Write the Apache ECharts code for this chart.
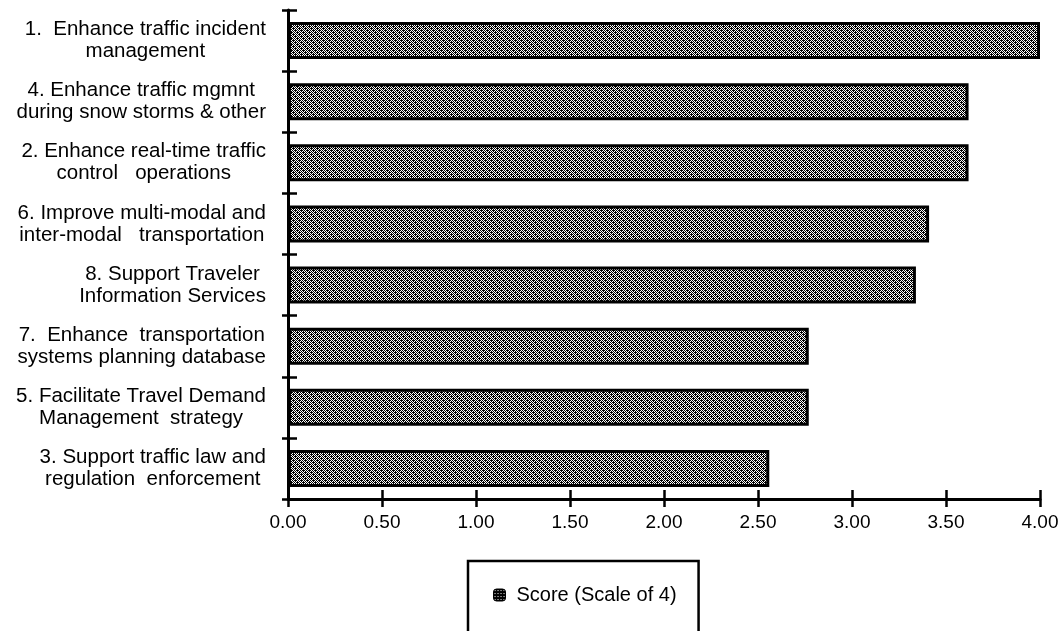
<!DOCTYPE html>
<html>
<head>
<meta charset="utf-8">
<title>Score (Scale of 4)</title>
<script src="https://cdn.jsdelivr.net/npm/echarts@6/dist/echarts.min.js"></script>
<style>
  html, body { margin: 0; padding: 0; background: #fff; }
  #chart { width: 1061px; height: 631px; }
</style>
</head>
<body>
<div id="chart"></div>
<script>
// Objectives, listed top to bottom
const categories = [
  '1.  Enhance traffic incident\nmanagement',
  '4. Enhance traffic mgmnt\nduring snow storms & other',
  '2. Enhance real-time traffic\ncontrol   operations',
  '6. Improve multi-modal and\ninter-modal   transportation',
  '8. Support Traveler\nInformation Services',
  '7.  Enhance  transportation\nsystems planning database',
  '5. Facilitate Travel Demand\nManagement  strategy',
  '3. Support traffic law and\nregulation  enforcement'
];
const scores = [4.00, 3.62, 3.62, 3.41, 3.34, 2.77, 2.77, 2.56];
const seriesName = 'Score (Scale of 4)';
const tickLabels = ['0.00', '0.50', '1.00', '1.50', '2.00', '2.50', '3.00', '3.50', '4.00'];

const SANS = '"Liberation Sans", Arial, Helvetica, sans-serif';

// Dithered grey fill used for the bars
function ditherTile(dark) {
  const n = 6;
  const c = document.createElement('canvas');
  c.width = n; c.height = n;
  const ctx = c.getContext('2d');
  ctx.fillStyle = '#fff';
  ctx.fillRect(0, 0, n, n);
  ctx.fillStyle = '#000';
  for (let y = 0; y < n; y++) {
    for (let x = 0; x < n; x++) {
      let on = (x + y) % 2 === 0 || (x + 2 * y) % 6 === 1;
      if (dark) on = !((x % 3 === 1) && (y % 3 === 1));
      if (on) ctx.fillRect(x, y, 1, 1);
    }
  }
  return c;
}
const barFill = { image: ditherTile(false), repeat: 'repeat' };
const iconFill = { image: ditherTile(true), repeat: 'repeat' };

const chart = echarts.init(document.getElementById('chart'), null, { renderer: 'canvas' });

const valueAxisBase = {
  type: 'value',
  min: 0,
  max: 4,
  interval: 0.5,
  splitLine: { show: false }
};

chart.setOption({
  animation: false,
  backgroundColor: '#fff',
  grid: { left: 288, right: 21, top: 10, bottom: 132, containLabel: false, outerBoundsMode: 'none' },
  legend: {
    data: [{ name: seriesName, itemStyle: { color: iconFill, borderColor: '#000', borderWidth: 1 } }],
    left: 468,
    top: 561,
    itemWidth: 12,
    itemHeight: 12,
    padding: [24, 22, 60, 25],
    borderColor: '#000',
    borderWidth: 2.5,
    borderRadius: 0,
    textStyle: { fontFamily: SANS, fontSize: 20, color: '#000', padding: [0, 0, 0, 6] }
  },
  xAxis: [
    Object.assign({}, valueAxisBase, {
      position: 'bottom',
      axisLine: { show: true, onZero: false, lineStyle: { color: '#000', width: 3 } },
      axisTick: { show: true, inside: false, length: 8, lineStyle: { color: '#000', width: 2.5 } },
      axisLabel: {
        margin: 14,
        color: '#000',
        fontFamily: SANS,
        fontSize: 19,
        formatter: (v) => tickLabels[Math.round(v / 0.5)]
      }
    }),
    Object.assign({}, valueAxisBase, {
      position: 'bottom',
      axisLine: { show: false, onZero: false },
      axisTick: { show: true, inside: true, length: 9, lineStyle: { color: '#000', width: 2.5 } },
      axisLabel: { show: false }
    })
  ],
  yAxis: [
    {
      type: 'category',
      inverse: true,
      data: categories,
      position: 'left',
      axisLine: { show: true, onZero: false, lineStyle: { color: '#000', width: 3 } },
      axisTick: { show: true, inside: false, length: 6, lineStyle: { color: '#000', width: 2.5 } },
      axisLabel: {
        align: 'right',
        margin: 22,
        formatter: (v) => v.split('\n').map((l) => '{c|' + l + '}').join('\n'),
        rich: {
          c: {
            align: 'center',
            fontFamily: SANS,
            fontSize: 20.5,
            lineHeight: 22,
            color: '#000'
          }
        }
      }
    },
    {
      type: 'category',
      inverse: true,
      data: categories,
      position: 'left',
      axisLine: { show: false },
      axisTick: { show: true, inside: true, length: 9, lineStyle: { color: '#000', width: 2.5 } },
      axisLabel: { show: false }
    }
  ],
  series: [
    {
      name: seriesName,
      type: 'bar',
      xAxisIndex: 0,
      yAxisIndex: 0,
      data: scores,
      barWidth: 37,
      itemStyle: { color: barFill, borderColor: '#000', borderWidth: 3 }
    }
  ]
});
</script>
</body>
</html>
